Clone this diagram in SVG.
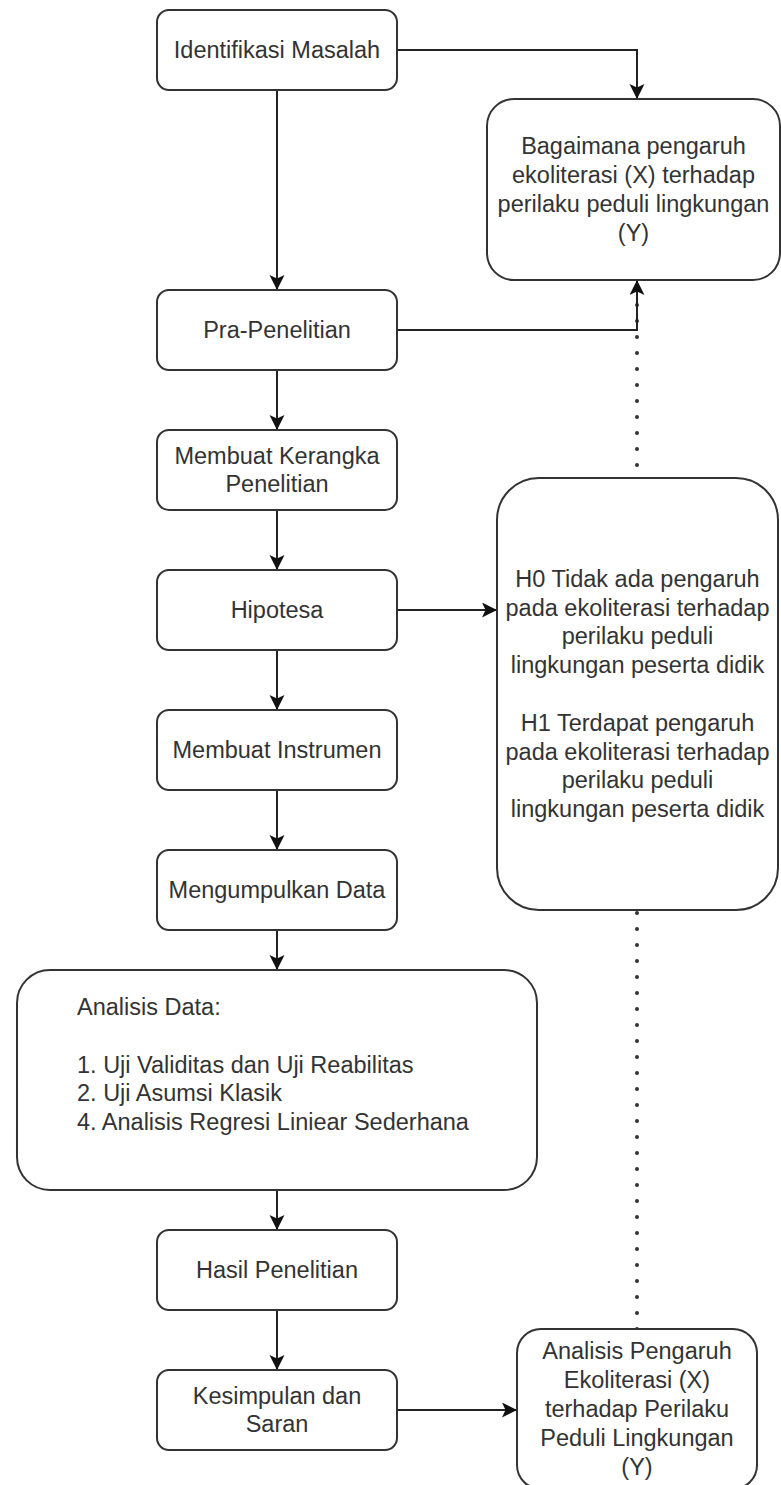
<svg xmlns="http://www.w3.org/2000/svg" width="781" height="1485" viewBox="0 0 781 1485">
<style>
.box{fill:#fff;stroke:#333;stroke-width:2}
.t{font-family:"Liberation Sans",Arial,sans-serif;font-size:23.5px;fill:#333;text-anchor:middle}
.tl{font-family:"Liberation Sans",Arial,sans-serif;font-size:23.5px;fill:#333;text-anchor:start}
.edge{fill:none;stroke:#222;stroke-width:2}
.dot{fill:none;stroke:#333;stroke-width:4;stroke-linecap:round;stroke-dasharray:0 16}
</style>
<defs>
<marker id="arr" markerUnits="userSpaceOnUse" markerWidth="18" markerHeight="18" refX="15" refY="7.5" orient="auto">
<path d="M0,0 L15,7.5 L0,15 L3.5,7.5 z" fill="#111"/>
</marker>
</defs>
<rect width="781" height="1485" fill="#fff"/>
<g id="connectors">
<path class="dot" d="M637,1329 L637,282"/>
<path class="edge" d="M397,50 L637,50 L637,99" marker-end="url(#arr)"/>
<path class="edge" d="M397,330 L637,330 L637,280" marker-end="url(#arr)"/>
<path class="edge" d="M277,90 L277,290" marker-end="url(#arr)"/>
<path class="edge" d="M277,370 L277,430" marker-end="url(#arr)"/>
<path class="edge" d="M277,510 L277,570" marker-end="url(#arr)"/>
<path class="edge" d="M277,650 L277,710" marker-end="url(#arr)"/>
<path class="edge" d="M277,790 L277,850" marker-end="url(#arr)"/>
<path class="edge" d="M277,930 L277,970" marker-end="url(#arr)"/>
<path class="edge" d="M277,1190 L277,1230" marker-end="url(#arr)"/>
<path class="edge" d="M277,1310 L277,1370" marker-end="url(#arr)"/>
<path class="edge" d="M397,610 L497,610" marker-end="url(#arr)"/>
<path class="edge" d="M397,1410 L517,1410" marker-end="url(#arr)"/>
</g>
<g id="identifikasi">
<rect class="box" x="157" y="10" width="240" height="80" rx="12"/>
<text class="t" x="277" y="58">Identifikasi Masalah</text>
</g>
<g id="bagaimana">
<rect class="box" x="487" y="99" width="293" height="181" rx="27"/>
<text class="t" x="633.5" y="154.3">Bagaimana pengaruh</text>
<text class="t" x="633.5" y="183.1">ekoliterasi (X) terhadap</text>
<text class="t" x="633.5" y="211.9">perilaku peduli lingkungan</text>
<text class="t" x="633.5" y="240.7">(Y)</text>
</g>
<g id="pra">
<rect class="box" x="157" y="290" width="240" height="80" rx="12"/>
<text class="t" x="277" y="338">Pra-Penelitian</text>
</g>
<g id="kerangka">
<rect class="box" x="157" y="430" width="240" height="80" rx="12"/>
<text class="t" x="277" y="463.6">Membuat Kerangka</text>
<text class="t" x="277" y="492.4">Penelitian</text>
</g>
<g id="hipotesa">
<rect class="box" x="157" y="570" width="240" height="80" rx="12"/>
<text class="t" x="277" y="618">Hipotesa</text>
</g>
<g id="hipotesis-detail">
<rect class="box" x="497" y="478" width="281" height="432" rx="42"/>
<text class="t" x="637.5" y="586.8">H0 Tidak ada pengaruh</text>
<text class="t" x="637.5" y="615.6">pada ekoliterasi terhadap</text>
<text class="t" x="637.5" y="644.4">perilaku peduli</text>
<text class="t" x="637.5" y="673.2">lingkungan peserta didik</text>
<text class="t" x="637.5" y="730.8">H1 Terdapat pengaruh</text>
<text class="t" x="637.5" y="759.6">pada ekoliterasi terhadap</text>
<text class="t" x="637.5" y="788.4">perilaku peduli</text>
<text class="t" x="637.5" y="817.2">lingkungan peserta didik</text>
</g>
<g id="instrumen">
<rect class="box" x="157" y="710" width="240" height="80" rx="12"/>
<text class="t" x="277" y="758">Membuat Instrumen</text>
</g>
<g id="mengumpulkan">
<rect class="box" x="157" y="850" width="240" height="80" rx="12"/>
<text class="t" x="277" y="898">Mengumpulkan Data</text>
</g>
<g id="analisis-data">
<rect class="box" x="17" y="970" width="520" height="220" rx="33"/>
<text class="tl" x="77" y="1015">Analisis Data:</text>
<text class="tl" x="77" y="1072.6">1. Uji Validitas dan Uji Reabilitas</text>
<text class="tl" x="77" y="1101.4">2. Uji Asumsi Klasik</text>
<text class="tl" x="77" y="1130.2">4. Analisis Regresi Liniear Sederhana</text>
</g>
<g id="hasil">
<rect class="box" x="157" y="1230" width="240" height="80" rx="12"/>
<text class="t" x="277" y="1278">Hasil Penelitian</text>
</g>
<g id="kesimpulan">
<rect class="box" x="157" y="1370" width="240" height="80" rx="12"/>
<text class="t" x="277" y="1403.6">Kesimpulan dan</text>
<text class="t" x="277" y="1432.4">Saran</text>
</g>
<g id="analisis-pengaruh">
<rect class="box" x="517" y="1329" width="240" height="160" rx="24"/>
<text class="t" x="637" y="1359.4">Analisis Pengaruh</text>
<text class="t" x="637" y="1388.2">Ekoliterasi (X)</text>
<text class="t" x="637" y="1417">terhadap Perilaku</text>
<text class="t" x="637" y="1445.8">Peduli Lingkungan</text>
<text class="t" x="637" y="1474.6">(Y)</text>
</g>
</svg>
